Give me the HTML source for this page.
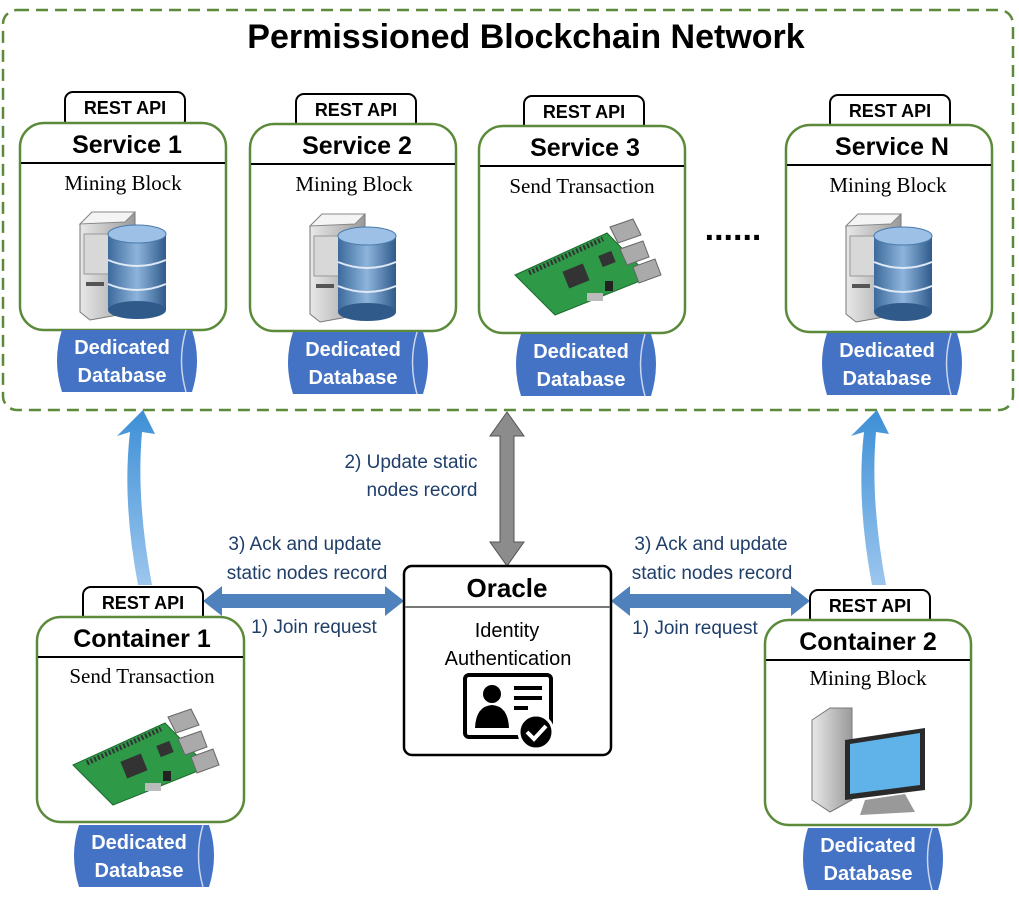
<!DOCTYPE html>
<html><head><meta charset="utf-8"><style>
body{margin:0;background:#fff}
svg{display:block}
.t{font-family:"Liberation Sans",sans-serif}
.s{font-family:"Liberation Serif",serif}
</style></head><body>
<svg width="1019" height="898" viewBox="0 0 1019 898" xmlns="http://www.w3.org/2000/svg">
<defs>
<linearGradient id="tw" x1="0" x2="1"><stop offset="0" stop-color="#e8e8e8"/><stop offset="1" stop-color="#9a9a9a"/></linearGradient>
<linearGradient id="db" x1="0" x2="1"><stop offset="0" stop-color="#3d6a9c"/><stop offset=".5" stop-color="#8db4dc"/><stop offset="1" stop-color="#2f5a8a"/></linearGradient>
<linearGradient id="ba" x1="0" y1="1" x2="0" y2="0"><stop offset="0" stop-color="#9cc6ee"/><stop offset="1" stop-color="#3d8fd6"/></linearGradient>
<g id="server">
 <path d="M0 12 L12 0 L55 0 L55 100 L10 108 L0 100 Z" fill="url(#tw)" stroke="#777" stroke-width="1"/>
 <path d="M0 12 L12 0 L55 0 L45 10 Z" fill="#f4f4f4" stroke="#888" stroke-width="1"/>
 <rect x="4" y="22" width="28" height="40" fill="#d8d8d8" stroke="#999"/>
 <rect x="6" y="70" width="18" height="4" fill="#555"/>
 <g>
 <rect x="28" y="22" width="58" height="76" fill="url(#db)"/>
 <ellipse cx="57" cy="98" rx="29" ry="9" fill="#2f5a8a"/>
 <ellipse cx="57" cy="22" rx="29" ry="9" fill="#9cc0e6" stroke="#4a7aab"/>
 <path d="M28 48 Q57 60 86 48 M28 72 Q57 84 86 72" stroke="#dfeaf6" stroke-width="2" fill="none"/>
 </g>
</g>
<g id="pi">
 <path d="M0 60 L92 18 L135 62 L40 100 Z" fill="#2e9a48" stroke="#1c6a2c"/>
 <path d="M14 58 L88 24" stroke="#333" stroke-width="5" stroke-dasharray="2 2"/>
 <rect x="50" y="52" width="22" height="18" fill="#333" transform="rotate(-22 61 61)"/>
 <rect x="85" y="38" width="14" height="12" fill="#333" transform="rotate(-22 92 44)"/>
 <path d="M95 12 L118 4 L126 20 L103 28 Z M105 34 L128 26 L134 42 L112 50 Z M118 52 L140 44 L146 60 L124 68 Z" fill="#aaa" stroke="#666"/>
 <rect x="72" y="78" width="16" height="8" fill="#bbb"/>
 <rect x="90" y="66" width="8" height="10" fill="#222"/>
</g>
<g id="dbcyl">
 <path d="M10 0 L140 0 Q150 30 140 62 L10 62 Q0 30 10 0 Z" fill="#4472c4"/>
 <path d="M134 0 Q125 30 134 62" stroke="#c9d6ee" stroke-width="1.5" fill="none"/>
 <text x="70" y="24" text-anchor="middle" class="t" font-weight="bold" font-size="20" fill="#fff">Dedicated</text>
 <text x="70" y="52" text-anchor="middle" class="t" font-weight="bold" font-size="20" fill="#fff">Database</text>
</g>
</defs>

<rect x="3" y="10" width="1010" height="400" rx="14" fill="none" stroke="#5b8a3a" stroke-width="2.5" stroke-dasharray="12 7"/>
<text x="526" y="48" text-anchor="middle" class="t" font-weight="bold" font-size="34">Permissioned Blockchain Network</text>

<g>
<rect x="65" y="92" width="120" height="36" rx="8" fill="#fff" stroke="#000" stroke-width="2"/>
<text x="125" y="114" text-anchor="middle" class="t" font-weight="bold" font-size="18">REST API</text>
<rect x="20" y="123" width="206" height="207" rx="24" fill="#fff" stroke="#5b8a3a" stroke-width="2.5"/>
<line x1="21" y1="163" x2="225" y2="163" stroke="#000" stroke-width="2"/>
<text x="127" y="153" text-anchor="middle" class="t" font-weight="bold" font-size="25">Service 1</text>
<text x="123" y="190" text-anchor="middle" class="s" font-size="21">Mining Block</text>
<use href="#server" x="80" y="212"/>
<use href="#dbcyl" x="52" y="330"/>
</g>
<g>
<rect x="296" y="94" width="120" height="36" rx="8" fill="#fff" stroke="#000" stroke-width="2"/>
<text x="356" y="116" text-anchor="middle" class="t" font-weight="bold" font-size="18">REST API</text>
<rect x="250" y="124" width="206" height="207" rx="24" fill="#fff" stroke="#5b8a3a" stroke-width="2.5"/>
<line x1="251" y1="164" x2="455" y2="164" stroke="#000" stroke-width="2"/>
<text x="357" y="154" text-anchor="middle" class="t" font-weight="bold" font-size="25">Service 2</text>
<text x="354" y="191" text-anchor="middle" class="s" font-size="21">Mining Block</text>
<use href="#server" x="310" y="214"/>
<use href="#dbcyl" x="283" y="332"/>
</g>
<g>
<rect x="524" y="96" width="120" height="36" rx="8" fill="#fff" stroke="#000" stroke-width="2"/>
<text x="584" y="118" text-anchor="middle" class="t" font-weight="bold" font-size="18">REST API</text>
<rect x="479" y="126" width="206" height="207" rx="24" fill="#fff" stroke="#5b8a3a" stroke-width="2.5"/>
<line x1="480" y1="166" x2="684" y2="166" stroke="#000" stroke-width="2"/>
<text x="585" y="156" text-anchor="middle" class="t" font-weight="bold" font-size="25">Service 3</text>
<text x="582" y="193" text-anchor="middle" class="s" font-size="21">Send Transaction</text>
<use href="#pi" x="515" y="215"/>
<use href="#dbcyl" x="511" y="334"/>
</g>
<text x="733" y="240" text-anchor="middle" class="t" font-weight="bold" font-size="34">......</text>
<g>
<rect x="830" y="95" width="120" height="36" rx="8" fill="#fff" stroke="#000" stroke-width="2"/>
<text x="890" y="117" text-anchor="middle" class="t" font-weight="bold" font-size="18">REST API</text>
<rect x="786" y="125" width="206" height="207" rx="24" fill="#fff" stroke="#5b8a3a" stroke-width="2.5"/>
<line x1="787" y1="165" x2="991" y2="165" stroke="#000" stroke-width="2"/>
<text x="892" y="155" text-anchor="middle" class="t" font-weight="bold" font-size="25">Service N</text>
<text x="888" y="192" text-anchor="middle" class="s" font-size="21">Mining Block</text>
<use href="#server" x="846" y="214"/>
<use href="#dbcyl" x="817" y="333"/>
</g>

<path d="M138 585 Q122 500 130 432 L117 436 L143 410 L155 434 L142 432 Q136 500 152 585 Z" fill="url(#ba)"/>
<path d="M872 585 Q856 500 864 432 L851 436 L877 410 L889 434 L876 432 Q870 500 886 585 Z" fill="url(#ba)"/>

<path d="M507 412 L524 436 L514 436 L514 542 L524 542 L507 566 L490 542 L500 542 L500 436 L490 436 Z" fill="#8c8c8c" stroke="#555" stroke-width="1"/>

<path d="M203 601 L222 586 L222 594 L385 594 L385 586 L404 601 L385 616 L385 608 L222 608 L222 616 Z" fill="#4f81bd"/>
<path d="M611 601 L630 586 L630 594 L791 594 L791 586 L810 601 L791 616 L791 608 L630 608 L630 616 Z" fill="#4f81bd"/>

<g class="t" font-size="19" fill="#1f3f6a">
<text x="411" y="468" text-anchor="middle">2) Update static</text>
<text x="422" y="496" text-anchor="middle">nodes record</text>
<text x="305" y="550" text-anchor="middle">3) Ack and update</text>
<text x="307" y="579" text-anchor="middle">static nodes record</text>
<text x="314" y="633" text-anchor="middle">1) Join request</text>
<text x="711" y="550" text-anchor="middle">3) Ack and update</text>
<text x="712" y="579" text-anchor="middle">static nodes record</text>
<text x="695" y="634" text-anchor="middle">1) Join request</text>
</g>

<rect x="404" y="566" width="207" height="189" rx="8" fill="#fff" stroke="#000" stroke-width="2.5"/>
<line x1="405" y1="607" x2="610" y2="607" stroke="#777" stroke-width="2"/>
<text x="507" y="597" text-anchor="middle" class="t" font-weight="bold" font-size="26">Oracle</text>
<text x="507" y="637" text-anchor="middle" class="t" font-size="20">Identity</text>
<text x="508" y="665" text-anchor="middle" class="t" font-size="20">Authentication</text>
<rect x="465" y="675" width="86" height="62" rx="4" fill="#fff" stroke="#000" stroke-width="4"/>
<circle cx="492" cy="694" r="9" fill="#000"/>
<path d="M475 728 Q476 706 492 705 Q508 706 509 728 Z" fill="#000"/>
<rect x="514" y="686" width="28" height="4" fill="#000"/><rect x="514" y="696" width="28" height="4" fill="#000"/><rect x="514" y="706" width="14" height="4" fill="#000"/>
<circle cx="536" cy="732" r="17" fill="#000" stroke="#fff" stroke-width="3"/>
<path d="M527 732 L534 739 L546 726" stroke="#fff" stroke-width="4" fill="none"/>

<rect x="83" y="587" width="120" height="36" rx="8" fill="#fff" stroke="#000" stroke-width="2"/>
<text x="143" y="609" text-anchor="middle" class="t" font-weight="bold" font-size="18">REST API</text>
<rect x="37" y="617" width="207" height="205" rx="24" fill="#fff" stroke="#5b8a3a" stroke-width="2.5"/>
<line x1="38" y1="657" x2="243" y2="657" stroke="#000" stroke-width="2"/>
<text x="142" y="647" text-anchor="middle" class="t" font-weight="bold" font-size="25">Container 1</text>
<text x="142" y="683" text-anchor="middle" class="s" font-size="21">Send Transaction</text>
<use href="#pi" x="73" y="705"/>
<use href="#dbcyl" x="69" y="825"/>

<rect x="810" y="590" width="120" height="36" rx="8" fill="#fff" stroke="#000" stroke-width="2"/>
<text x="870" y="612" text-anchor="middle" class="t" font-weight="bold" font-size="18">REST API</text>
<rect x="765" y="620" width="206" height="205" rx="24" fill="#fff" stroke="#5b8a3a" stroke-width="2.5"/>
<line x1="766" y1="660" x2="970" y2="660" stroke="#000" stroke-width="2"/>
<text x="868" y="650" text-anchor="middle" class="t" font-weight="bold" font-size="25">Container 2</text>
<text x="868" y="685" text-anchor="middle" class="s" font-size="21">Mining Block</text>
<path d="M812 720 L830 708 L852 708 L852 800 L830 812 L812 800 Z" fill="url(#tw)" stroke="#777"/>
<path d="M845 740 L925 728 L925 790 L845 800 Z" fill="#2a2a2a"/>
<path d="M850 744 L920 733 L920 785 L850 794 Z" fill="#5fb3e8"/>
<path d="M865 800 L905 794 L915 812 L860 815 Z" fill="#999"/>
<use href="#dbcyl" x="798" y="828"/>
</svg>
</body></html>
